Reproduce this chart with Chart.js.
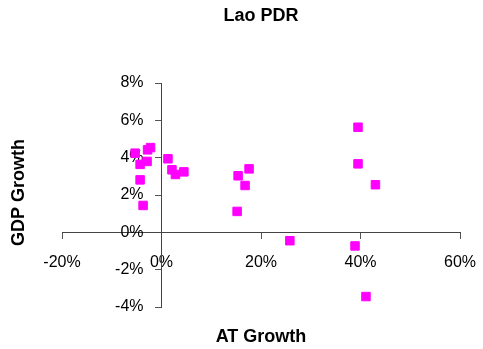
<!DOCTYPE html>
<html>
<head>
<meta charset="utf-8">
<script src="https://cdn.jsdelivr.net/npm/chart.js@4"></script>
<style>
  html, body { margin: 0; padding: 0; background: #fff; }
  #wrap { width: 483px; height: 349px; }
</style>
</head>
<body>
<div id="wrap"><canvas id="Scatter" width="483" height="349"></canvas></div>
<script>
// values, in percent
const atGrowth  = [-5.3, -4.3, -4.3, -3.7, -2.9, -2.8, -2.2, 1.3, 2.1, 2.8, 4.5, 15.4, 16.8, 17.6, 15.2, 25.8, 39.5, 39.5, 43.0, 38.9, 41.1]
const gdpGrowth = [4.24, 3.64, 2.81, 1.44, 3.80, 4.42, 4.54, 3.94, 3.35, 3.10, 3.24, 3.03, 2.51, 3.40, 1.12, -0.45, 5.63, 3.67, 2.55, -0.73, -3.44]

const xTicks = [-20, 0, 20, 40, 60]
const yTicks = [-4, -2, 0, 2, 4, 6, 8]

const fontFam = "'Liberation Sans', Arial, sans-serif"

const puntos = atGrowth.map((x, i) => ({ x: x, y: gdpGrowth[i] }))

// labels of a scale at the crossing don't need edge room
const sinPadding = (s) => {
    s.paddingLeft = 0
    s.paddingRight = 0
    s.paddingTop = 0
    s.paddingBottom = 0
}

// axis titles sit far from the crossing axes, so they are drawn by hand
const axisTitles = {
    id: 'axisTitles',
    afterLayout(chart) {
        // y labels of an axis placed at x=0 sit on the line, push them left
        const y = chart.scales.y
        y._labelItems = y._computeLabelItems(chart.chartArea)
        y._labelItems.forEach(it => { it.options.translation[0] -= 18 })
    },
    afterDraw(chart) {
        const ctx = chart.ctx
        ctx.save()
        ctx.fillStyle = '#000'
        ctx.font = 'bold 18px ' + fontFam
        ctx.textAlign = 'center'
        ctx.textBaseline = 'middle'
        ctx.fillText('AT Growth', 261, 337)
        ctx.translate(19.5, 192.5)
        ctx.rotate(-Math.PI / 2)
        ctx.fillText('GDP Growth', 0, 0)
        ctx.restore()
    }
}

new Chart(document.getElementById('Scatter'), {
    type: 'scatter',
    data: {
        datasets: [{
            label: 'Lao PDR',
            data: puntos,
            pointStyle: 'rect',
            pointRadius: 6,
            pointHoverRadius: 6,
            backgroundColor: '#ff00ff',
            borderColor: '#ff00ff',
            borderWidth: 1
        }]
    },
    options: {
        responsive: false,
        animation: false,
        events: [],
        layout: { padding: { left: 62, right: 23, top: 0, bottom: 42 } },
        plugins: {
            legend: { display: false },
            tooltip: { enabled: false },
            title: {
                display: true,
                fullSize: false,
                text: 'Lao PDR',
                color: '#000',
                font: { family: fontFam, size: 18, weight: 'bold' },
                padding: { top: 5, bottom: 56.4 }
            }
        },
        scales: {
            x: {
                type: 'linear',
                position: { y: 0 },
                min: xTicks[0],
                max: xTicks[xTicks.length - 1],
                afterBuildTicks: (s) => { s.ticks = xTicks.map(v => ({ value: v })) },
                afterFit: sinPadding,
                grid: { drawOnChartArea: false, drawTicks: true, tickLength: 6, color: '#555' },
                border: { color: '#444', width: 1 },
                ticks: {
                    color: '#000',
                    padding: 15,
                    maxRotation: 0,
                    font: { family: fontFam, size: 16 },
                    callback: (v) => v + '%'
                }
            },
            y: {
                type: 'linear',
                position: { x: 0 },
                min: yTicks[0],
                max: yTicks[yTicks.length - 1],
                afterBuildTicks: (s) => { s.ticks = yTicks.map(v => ({ value: v })) },
                afterFit: sinPadding,
                grid: { drawOnChartArea: false, drawTicks: true, tickLength: 6, color: '#555' },
                border: { color: '#444', width: 1 },
                ticks: {
                    color: '#000',
                    font: { family: fontFam, size: 16 },
                    callback: (v) => v + '%'
                }
            }
        }
    },
    plugins: [axisTitles]
})
</script>
</body>
</html>
